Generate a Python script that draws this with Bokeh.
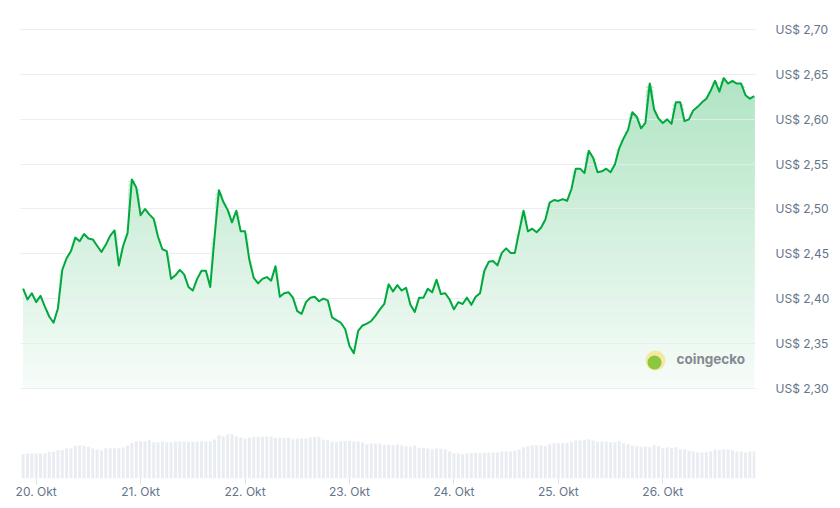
import numpy as np
import pandas as pd
from bokeh.plotting import figure
from bokeh.models import Range1d, FixedTicker, Label, BoxAnnotation
from bokeh.embed import file_html
from bokeh.resources import INLINE

# ---------------- data ----------------
start_time = "2025-10-19 21:00"   # first hourly point
prices = [
    2.411, 2.399, 2.406, 2.396, 2.403, 2.391, 2.380, 2.373, 2.389, 2.432,
    2.445, 2.453, 2.468, 2.464, 2.472, 2.467, 2.466, 2.459, 2.452, 2.460,
    2.470, 2.476, 2.437, 2.459, 2.473, 2.533, 2.524, 2.493, 2.500, 2.494,
    2.489, 2.469, 2.455, 2.453, 2.422, 2.426, 2.432, 2.427, 2.413, 2.409,
    2.422, 2.431, 2.431, 2.413, 2.469, 2.521, 2.508, 2.499, 2.485, 2.498,
    2.475, 2.475, 2.443, 2.423, 2.417, 2.422, 2.424, 2.420, 2.436, 2.402,
    2.406, 2.407, 2.401, 2.386, 2.383, 2.396, 2.401, 2.402, 2.397, 2.400,
    2.398, 2.379, 2.376, 2.373, 2.366, 2.347, 2.339, 2.364, 2.370, 2.372,
    2.375, 2.381, 2.388, 2.394, 2.416, 2.408, 2.415, 2.409, 2.412, 2.393,
    2.385, 2.401, 2.401, 2.411, 2.407, 2.421, 2.405, 2.406, 2.399, 2.388,
    2.396, 2.394, 2.401, 2.393, 2.402, 2.406, 2.431, 2.441, 2.442, 2.437,
    2.451, 2.456, 2.451, 2.451, 2.475, 2.498, 2.475, 2.478, 2.474, 2.479,
    2.488, 2.507, 2.510, 2.509, 2.511, 2.509, 2.522, 2.545, 2.545, 2.540,
    2.565, 2.557, 2.541, 2.542, 2.545, 2.541, 2.550, 2.568, 2.579, 2.588,
    2.608, 2.603, 2.590, 2.596, 2.640, 2.611, 2.601, 2.596, 2.600, 2.595,
    2.619, 2.619, 2.598, 2.600, 2.610, 2.614, 2.619, 2.623, 2.632, 2.643,
    2.631, 2.646, 2.640, 2.643, 2.640, 2.640, 2.627, 2.623, 2.626,
]
# hourly volume (Mio. US$)
volumes = [
    98, 100, 100, 100, 100, 101, 107, 107, 113, 114,
    120, 121, 131, 133, 131, 127, 120, 116, 113, 121,
    121, 121, 121, 124, 132, 143, 149, 149, 149, 153,
    145, 145, 148, 145, 145, 148, 148, 148, 147, 147,
    147, 149, 149, 149, 156, 173, 169, 177, 177, 169,
    164, 159, 164, 166, 167, 167, 168, 168, 163, 164,
    162, 163, 157, 160, 160, 160, 164, 166, 167, 156,
    153, 148, 145, 149, 150, 151, 148, 148, 144, 137,
    140, 140, 140, 135, 136, 133, 136, 132, 129, 127,
    132, 123, 123, 120, 117, 120, 119, 116, 109, 101,
    100, 97, 101, 102, 102, 102, 103, 104, 104, 104,
    108, 108, 108, 111, 116, 125, 129, 133, 133, 133,
    129, 137, 141, 141, 141, 143, 147, 152, 152, 155,
    157, 152, 147, 148, 147, 145, 145, 149, 141, 137,
    132, 129, 127, 129, 125, 133, 129, 121, 125, 123,
    125, 117, 117, 111, 108, 105, 104, 105, 109, 116,
    113, 116, 116, 113, 108, 108, 104, 108, 109,
]
day_ticks = ["2025-10-20", "2025-10-21", "2025-10-22", "2025-10-23",
             "2025-10-24", "2025-10-25", "2025-10-26"]
day_labels = ["20. Okt", "21. Okt", "22. Okt", "23. Okt",
              "24. Okt", "25. Okt", "26. Okt"]
price_ticks = [2.30, 2.35, 2.40, 2.45, 2.50, 2.55, 2.60, 2.65, 2.70]
price_labels = ["US$ 2,30", "US$ 2,35", "US$ 2,40", "US$ 2,45", "US$ 2,50",
                "US$ 2,55", "US$ 2,60", "US$ 2,65", "US$ 2,70"]

# ---------------- chart ----------------
n = len(prices)
times = pd.date_range(start_time, periods=n, freq="h")
HOUR = 3600 * 1000.0
t_ms = times.values.astype("datetime64[ms]").astype(np.int64).astype(float)
price_arr = np.array(prices)
vol_arr = np.array(volumes[:n], dtype=float)

GREEN = "#00a83e"
GREEN_RGB = (0, 168, 62)
LABEL_COLOR = "#64748b"
FONT = "Inter"


def mix_white(alpha):
    r, g, b = (round(255 * (1 - alpha) + c * alpha) for c in GREEN_RGB)
    return f"#{r:02x}{g:02x}{b:02x}"


p = figure(width=835, height=505, x_axis_type="datetime", y_axis_location="right",
           output_backend="svg", toolbar_location=None,
           x_range=Range1d(t_ms[0] - 0.6 * HOUR, t_ms[-1] + 0.3 * HOUR),
           y_range=Range1d(2.1992, 2.7215),
           min_border_left=20, min_border_right=80, min_border_top=10, min_border_bottom=27)
p.outline_line_color = None
p.background_fill_color = "white"
p.border_fill_color = "white"

# volume bars
p.extra_y_ranges = {"vol": Range1d(0, 1872)}
p.vbar(x=t_ms, top=vol_arr, width=0.69 * HOUR, y_range_name="vol",
       fill_color="#e9edf2", line_color=None)

# vertical gradient under the line: opaque bands, each drawn over the one below
base, step = 2.30, 0.005
levels = np.arange(base, price_arr.max(), step)
for lvl in levels:
    alpha = min(1.0, max(0.0, 0.8 * (lvl + step / 2 - 2.26)))
    p.varea(x=t_ms, y1=np.full(n, lvl), y2=np.maximum(price_arr, lvl),
            fill_color=mix_white(alpha), fill_alpha=1.0)

# price line
line_r = p.line(t_ms, price_arr, line_color=GREEN, line_width=2, line_join="round")
line_r.level = "overlay"

# grid
p.xgrid.grid_line_color = None
p.ygrid.ticker = FixedTicker(ticks=price_ticks)
p.ygrid.grid_line_color = "#e8ebef"
p.ygrid.grid_line_alpha = 0.9
p.ygrid.grid_line_width = 1
p.ygrid.level = "annotation"

# x axis
day_ms = [float(pd.Timestamp(d).value // 10**6) for d in day_ticks]
xa = p.xaxis[0]
xa.ticker = FixedTicker(ticks=day_ms)
xa.major_label_overrides = {t: l for t, l in zip(day_ms, day_labels)}
xa.axis_line_color = None
xa.major_tick_line_color = "#dde2e8"
xa.major_tick_in = 0
xa.major_tick_out = 6
xa.minor_tick_line_color = None
xa.major_label_standoff = -1
xa.major_label_text_font = FONT
xa.major_label_text_font_size = "12px"
xa.major_label_text_color = LABEL_COLOR

# y axis (right)
ya = p.yaxis[0]
ya.ticker = FixedTicker(ticks=price_ticks)
ya.major_label_overrides = {t: l for t, l in zip(price_ticks, price_labels)}
ya.axis_line_color = None
ya.major_tick_line_color = None
ya.minor_tick_line_color = None
ya.major_label_standoff = 14
ya.major_label_text_font = FONT
ya.major_label_text_font_size = "12px"
ya.major_label_text_color = LABEL_COLOR

# watermark
p.add_layout(BoxAnnotation(left=625, right=645, bottom=108, top=128,
                           left_units="screen", right_units="screen",
                           bottom_units="screen", top_units="screen",
                           fill_color="#f7e7a4", fill_alpha=1.0, line_color=None,
                           border_radius=10, level="overlay"))
p.add_layout(BoxAnnotation(left=627, right=641, bottom=109, top=123,
                           left_units="screen", right_units="screen",
                           bottom_units="screen", top_units="screen",
                           fill_color="#8dc63f", fill_alpha=1.0, line_color=None,
                           border_radius=7, level="overlay"))
p.add_layout(Label(x=656, y=120, x_units="screen", y_units="screen", text="coingecko",
                   text_font=FONT, text_font_style="bold", text_font_size="13.5px",
                   text_color="#858991", text_baseline="alphabetic"))

open("out.html", "w").write(file_html(p, INLINE))
